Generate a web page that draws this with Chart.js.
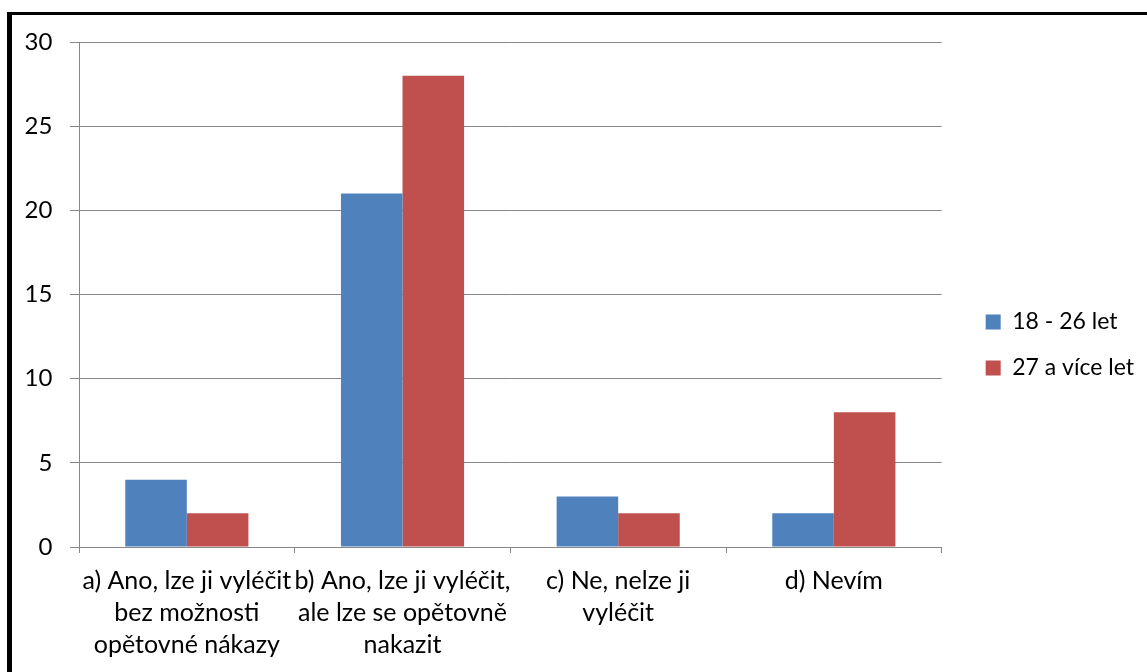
<!DOCTYPE html>
<html lang="cs">
<head>
<meta charset="utf-8">
<title>Lze nemoc vyléčit?</title>
<script src="https://cdn.jsdelivr.net/npm/chart.js@4/dist/chart.umd.min.js"></script>
<style>
  html, body { margin: 0; padding: 0; background: #fff; }
  body { width: 1147px; height: 672px; overflow: hidden; position: relative; }
  #chart { position: absolute; left: 12px; top: 10px; display: block; }
  /* black frame on the top and left edge, drawn over the canvas */
  #frame {
    position: absolute; left: 7px; top: 12px; z-index: 2;
    width: 1140px; height: 660px; box-sizing: border-box;
    border-left: 5px solid #000; border-top: 3px solid #000;
    pointer-events: none;
  }
</style>
</head>
<body>
<canvas id="chart" width="1135" height="662"></canvas>
<div id="frame"></div>
<script>
// Answer options (multi-line axis labels)
const categories = [
  ["a) Ano, lze ji vyléčit", "bez možnosti", "opětovné nákazy"],
  ["b) Ano, lze ji vyléčit,", "ale lze se opětovně", "nakazit"],
  ["c) Ne, nelze ji", "vyléčit"],
  ["d) Nevím"]
];
// Age groups
const seriesNames = ["18 - 26 let", "27 a více let"];
const young = [4, 21, 3, 2];
const older = [2, 28, 2, 8];
// Value axis ticks
const yTicks = [0, 5, 10, 15, 20, 25, 30];

const FONT = "Lato, 'Noto Sans', sans-serif";
const GRID = "#878787";

// empty spacer axes that only reserve room around the plot
const spacer = (type, position, size) => ({
  type, position, display: true,
  grid: { display: false, drawOnChartArea: false, drawTicks: false },
  border: { display: false },
  ticks: { display: false },
  afterFit(scale) {
    if (scale.isHorizontal()) scale.height = size; else scale.width = size;
  }
});

new Chart(document.getElementById("chart"), {
  type: "bar",
  data: {
    labels: categories,
    datasets: [
      { label: seriesNames[0], data: young, backgroundColor: "#4F81BD" },
      { label: seriesNames[1], data: older, backgroundColor: "#C0504D" }
    ]
  },
  options: {
    responsive: false,
    animation: false,
    layout: { padding: { top: 8, left: 0, right: 3, bottom: 0 } },
    datasets: { bar: { categoryPercentage: 0.571, barPercentage: 1.0 } },
    scales: {
      x: {
        offset: true,
        grid: {
          offset: true, drawOnChartArea: false, drawTicks: true,
          tickLength: 6, color: GRID, lineWidth: 1
        },
        border: { display: true, color: GRID, width: 1 },
        ticks: {
          autoSkip: false, maxRotation: 0, minRotation: 0, padding: 12,
          color: "#000", font: { family: FONT, size: 25, lineHeight: 32 / 25 }
        },
        afterFit(scale) { scale.height = 125; }
      },
      y: {
        min: yTicks[0], max: yTicks[yTicks.length - 1],
        afterBuildTicks(scale) { scale.ticks = yTicks.map(v => ({ value: v })); },
        grid: { color: GRID, lineWidth: 1, tickLength: 9, drawTicks: true },
        border: { display: true, color: GRID, width: 1 },
        ticks: {
          padding: 17.6, color: "#000",
          font: { family: FONT, size: 24 }
        },
        afterFit(scale) { scale.width = 67; }
      },
      topGap: spacer("category", "top", 24),
      legendGap: spacer("linear", "right", 21)
    },
    plugins: {
      tooltip: { enabled: false },
      legend: {
        position: "right",
        align: "center",
        labels: {
          boxWidth: 15, boxHeight: 15, padding: 23, color: "#000",
          font: { family: FONT, size: 23 }
        }
      }
    }
  }
});
</script>
</body>
</html>
